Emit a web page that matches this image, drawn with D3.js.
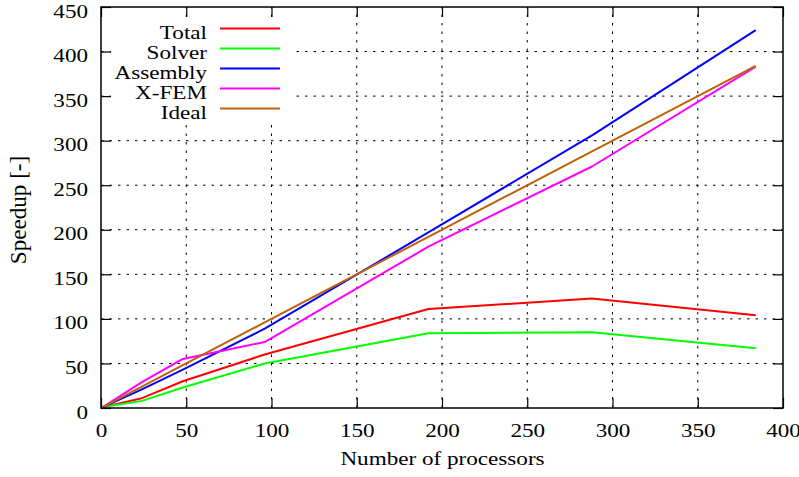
<!DOCTYPE html>
<html>
<head>
<meta charset="utf-8">
<script src="https://cdn.jsdelivr.net/npm/d3@7"></script>
<style>
  body { margin: 0; background: #fff; }
  svg text { font-family: "Liberation Serif", "Times New Roman", serif; font-size: 18.5px; fill: #000; }
</style>
</head>
<body>
<svg id="chart" width="799" height="477"></svg>
<script>
// Processor counts and measured speedups
const processors = [1, 24, 48, 96, 192, 288, 384];
const totalSpeedup    = [1, 11, 30, 60, 111, 123, 104];
const solverSpeedup   = [1, 8, 23, 50, 84, 85, 67];
const assemblySpeedup = [1, 21, 43, 89, 197, 306, 424];
const xfemSpeedup     = [1, 29, 55, 74, 181, 271, 383];
const idealSpeedup    = [1, 24, 48, 96, 192, 288, 384];

const seriesNames  = ["Total", "Solver", "Assembly", "X-FEM", "Ideal"];
const seriesValues = [totalSpeedup, solverSpeedup, assemblySpeedup, xfemSpeedup, idealSpeedup];
const seriesColors = ["#ff0000", "#00ff00", "#0000ff", "#ff00ff", "#c0600a"];

const xTicks = [0, 50, 100, 150, 200, 250, 300, 350, 400];
const yTicks = [0, 50, 100, 150, 200, 250, 300, 350, 400, 450];

const svg = d3.select("#chart");
const plotLeft = 101, plotRight = 783, plotTop = 7, plotBottom = 408;
const widen = 1.25; // horizontal stretch of the lettering

const x = d3.scaleLinear().domain([0, 400]).range([plotLeft, plotRight]);
const y = d3.scaleLinear().domain([0, 450]).range([plotBottom, plotTop]);

// grid
const grid = svg.append("g").attr("stroke", "#000").attr("stroke-width", 1)
  .attr("stroke-dasharray", "2.5,6");
grid.selectAll(".gx").data(xTicks.slice(1, -1)).join("line")
  .attr("x1", d => x(d)).attr("x2", d => x(d))
  .attr("y1", plotBottom).attr("y2", plotTop);
grid.selectAll(".gy").data(yTicks.slice(1, -1)).join("line")
  .attr("y1", d => y(d)).attr("y2", d => y(d))
  .attr("x1", plotLeft).attr("x2", plotRight);

// axes with mirrored inward ticks
const tickLen = 10;
const axB = svg.append("g").attr("transform", `translate(0,${plotBottom})`)
  .call(d3.axisBottom(x).tickValues(xTicks).tickSize(-tickLen).tickPadding(0));
const axT = svg.append("g").attr("transform", `translate(0,${plotTop})`)
  .call(d3.axisTop(x).tickValues(xTicks).tickSize(-tickLen).tickFormat(""));
const axL = svg.append("g").attr("transform", `translate(${plotLeft},0)`)
  .call(d3.axisLeft(y).tickValues(yTicks).tickSize(-tickLen).tickPadding(0));
const axR = svg.append("g").attr("transform", `translate(${plotRight},0)`)
  .call(d3.axisRight(y).tickValues(yTicks).tickSize(-tickLen).tickFormat(""));
[axB, axT, axL, axR].forEach(a => {
  a.select(".domain").remove();
  a.attr("font-family", null).attr("font-size", null);
  a.selectAll("line").attr("stroke", "#000").attr("stroke-width", 1.2);
  a.selectAll("text").attr("fill", "#000");
});
axB.selectAll("text").attr("y", 29).attr("dy", null);
axL.selectAll("text").attr("x", -13).attr("y", 10).attr("dy", null);

// legend background hides the grid under it
const legendRight = 207, sampleX1 = 220, sampleX2 = 280, legendTop = 28.5, legendStep = 20;
svg.append("rect").attr("x", 111).attr("y", 17).attr("width", 182).attr("height", 106).attr("fill", "#fff");

// series lines
const line = d3.line().x((d, i) => x(processors[i])).y(d => y(d));
svg.append("g").selectAll("path").data(seriesValues).join("path")
  .attr("d", d => line(d))
  .attr("fill", "none")
  .attr("stroke", (d, i) => seriesColors[i])
  .attr("stroke-width", 2)
  .attr("stroke-linejoin", "round");

// legend
const lg = svg.append("g");
seriesNames.forEach((name, i) => {
  const yy = legendTop + i * legendStep;
  lg.append("text").attr("x", legendRight).attr("y", yy + 10)
    .attr("text-anchor", "end").text(name);
  lg.append("line").attr("x1", sampleX1).attr("x2", sampleX2).attr("y1", yy).attr("y2", yy)
    .attr("stroke", seriesColors[i]).attr("stroke-width", 2);
});

// frame
svg.append("rect").attr("x", plotLeft).attr("y", plotTop)
  .attr("width", plotRight - plotLeft).attr("height", plotBottom - plotTop)
  .attr("fill", "none").attr("stroke", "#000").attr("stroke-width", 1.5);

// axis titles
svg.append("text").attr("x", (plotLeft + plotRight) / 2 + 0.5).attr("y", 465).attr("text-anchor", "middle")
  .text("Number of processors");

// widen all horizontal lettering
svg.selectAll("text").each(function () {
  const len = this.getComputedTextLength();
  d3.select(this).attr("textLength", len * widen).attr("lengthAdjust", "spacingAndGlyphs");
});

// vertical title, drawn slightly larger
svg.append("text").attr("transform", `translate(26,210) rotate(-90) scale(${widen})`)
  .attr("text-anchor", "middle").text("Speedup [-]");
</script>
</body>
</html>
